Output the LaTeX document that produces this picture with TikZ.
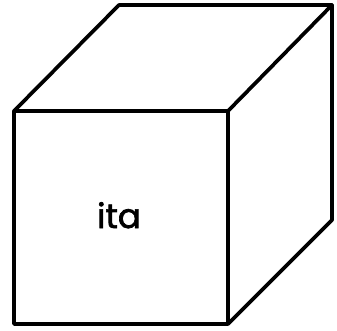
\documentclass[tikz,border=0pt]{standalone}
\usepackage{fontspec}
\setmainfont{Poppins}[FakeBold=2]
\tikzset{cubeline/.style={draw=black,line width=3.7pt,line join=round,line cap=round},
 lbl/.style={inner sep=0pt,font=\fontsize{34}{34}\selectfont,text=black}}
\begin{document}
\begin{tikzpicture}[x=1pt,y=-1pt]
\useasboundingbox (0,0) rectangle (337,330);
\coordinate (fa) at (14,111);
\coordinate (fb) at (228,111);
\coordinate (fc) at (228,324);
\coordinate (fd) at (14,324);
\coordinate (ba) at (119,5);
\coordinate (bb) at (332,5);
\coordinate (bc) at (332,220);
\draw[cubeline] (fa) -- (fb) -- (fc) -- (fd) -- cycle;
\draw[cubeline] (fa) -- (ba) -- (bb) -- (fb);
\draw[cubeline] (bb) -- (bc) -- (fc);
\node[lbl,anchor=base] (t) at (119,228) {ita};
\end{tikzpicture}
\end{document}
